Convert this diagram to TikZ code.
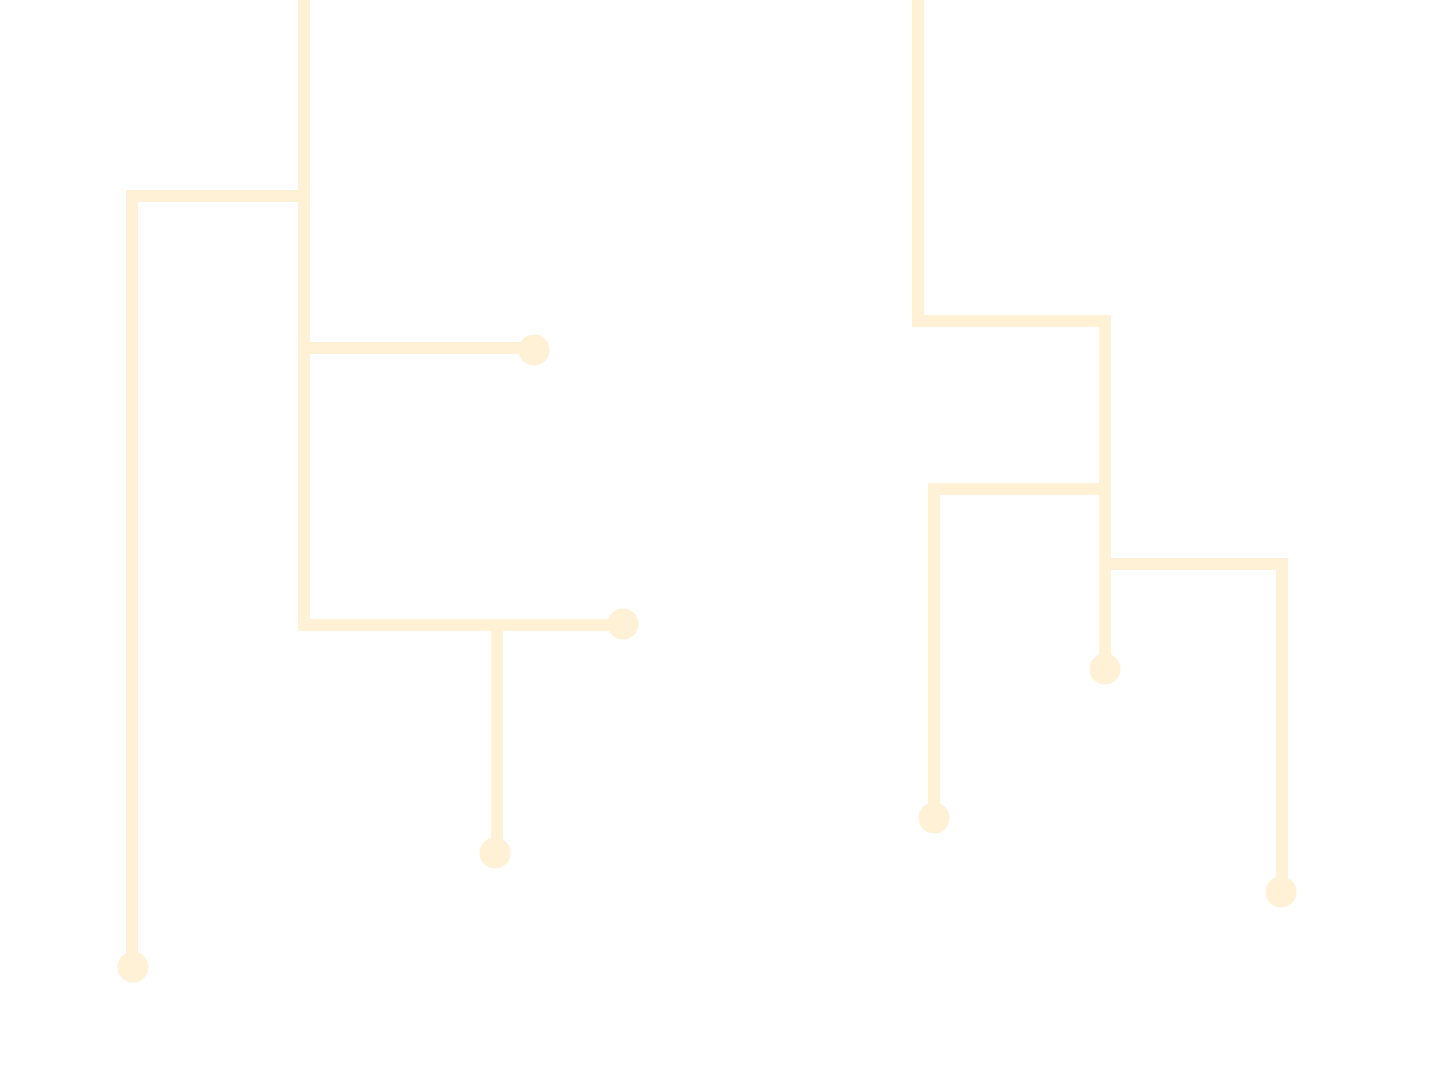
\documentclass[tikz,border=0pt]{standalone}
\definecolor{cream}{HTML}{FFF1D6}
\tikzset{
  wire/.style={draw=cream, line width=12.5pt, line cap=butt, line join=miter},
  thinwire/.style={wire, line width=11.5pt},
  dotend/.style={circle, fill=cream, minimum size=31pt, inner sep=0pt}
}
\begin{document}
\begin{tikzpicture}[x=1pt,y=-1pt]
\useasboundingbox[fill=white] (0,0) rectangle (1440,1083);
% left tree
\coordinate (lt) at (304,-5);
\coordinate (lb) at (304,625);
\coordinate (lj1) at (304,196);
\coordinate (lj2) at (304,348);
\coordinate (lj3) at (497,625);
\node[dotend] (d1) at (133,967) {};
\node[dotend] (d2) at (534,350) {};
\node[dotend] (d3) at (623,624) {};
\node[dotend] (d4) at (495,853) {};
\draw[wire] (lt) -- (lb) -- (d3.center |- lb);
\draw[wire] (lj1) -- (132,196) -- (132,960);
\draw[wire] (lj2) -- (d2.center |- lj2);
\draw[thinwire] (lj3) -- (497,845);
% right tree
\coordinate (rt) at (918,-5);
\coordinate (rc) at (918,321);
\coordinate (rj1) at (1105,489);
\coordinate (rj2) at (1105,564);
\node[dotend] (e1) at (1105,669) {};
\node[dotend] (e2) at (934,818) {};
\node[dotend] (e3) at (1281,892) {};
\draw[wire] (rt) -- (rc) -- (1105,321) -- (e1.center);
\draw[wire] (rj1) -- (934,489) -- (e2.center);
\draw[wire] (rj2) -- (1282,564) -- (1282,885);
\end{tikzpicture}
\end{document}
